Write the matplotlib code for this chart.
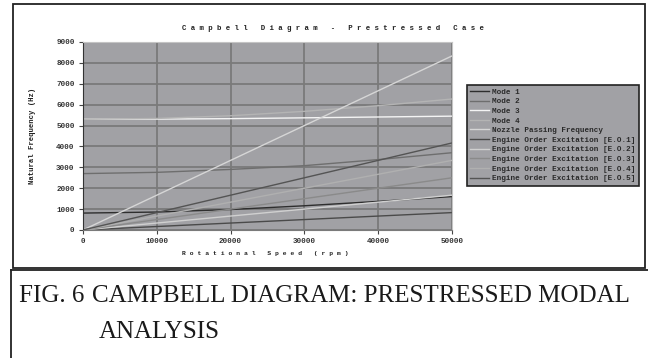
import matplotlib
matplotlib.use('Agg')
import matplotlib.pyplot as plt
from matplotlib.patches import Rectangle
from matplotlib.lines import Line2D

W, H = 648, 358

# rotational speed (rpm) and natural frequencies (Hz)
rpm = [0, 10000, 20000, 30000, 40000, 50000]
mode1 = [810, 860, 980, 1160, 1370, 1600]
mode2 = [2700, 2760, 2900, 3080, 3370, 3700]
mode3 = [5300, 5310, 5330, 5370, 5410, 5450]
mode4 = [5300, 5340, 5470, 5680, 5950, 6270]
nozzle = [0, 1667, 3333, 5000, 6667, 8333]
eo1 = [0, 167, 333, 500, 667, 833]
eo2 = [0, 333, 667, 1000, 1333, 1667]
eo3 = [0, 500, 1000, 1500, 2000, 2500]
eo4 = [0, 667, 1333, 2000, 2667, 3333]
eo5 = [0, 833, 1667, 2500, 3333, 4167]

labels = ['Mode 1', 'Mode 2', 'Mode 3', 'Mode 4', 'Nozzle Passing Frequency',
          'Engine Order Excitation [E.O.1]', 'Engine Order Excitation [E.O.2]',
          'Engine Order Excitation [E.O.3]', 'Engine Order Excitation [E.O.4]',
          'Engine Order Excitation [E.O.5]']
series = [mode1, mode2, mode3, mode4, nozzle, eo1, eo2, eo3, eo4, eo5]
colors = ['#2e2e2e', '#6e6e6e', '#f4f4f4', '#b4b4b4', '#d6d6d6',
          '#4a4a4a', '#d0d0d0', '#8a8a8a', '#b0b0b0', '#545454']

xticks = [0, 10000, 20000, 30000, 40000, 50000]
yticks = list(range(0, 9001, 1000))

bg = '#a1a1a5'
mono = 'Liberation Mono'


def spaced(s):
    return ' '.join(s)


fig = plt.figure(figsize=(W / 100, H / 100), dpi=100)
fig.patch.set_facecolor('white')

# chart frame and caption box (pixel coords, y from top)
def px(x, y):
    return x / W, 1 - y / H

fig.add_artist(Rectangle(px(13, 268), (645 - 13) / W, (268 - 4) / H,
                         transform=fig.transFigure, fill=False,
                         edgecolor='#222222', linewidth=1.3))
fig.add_artist(Line2D([11 / W, 11 / W], [1 - 270 / H, 0],
                      transform=fig.transFigure, color='#222222', linewidth=1.3))
fig.add_artist(Line2D([11 / W, 1], [1 - 270 / H, 1 - 270 / H],
                      transform=fig.transFigure, color='#222222', linewidth=1.3))

ax = fig.add_axes([83 / W, 1 - 230 / H, (452 - 83) / W, (230 - 42) / H])
ax.set_facecolor(bg)

for vals, c, lab in zip(series, colors, labels):
    ax.plot(rpm, vals, color=c, linewidth=1.0, label=lab)

ax.set_xlim(0, 50000)
ax.set_ylim(0, 9000)
ax.set_xticks(xticks)
ax.set_yticks(yticks)
ax.set_xticklabels([str(v) for v in xticks], fontfamily=mono, fontsize=5.5,
                   fontweight='bold', color='#333333')
ax.set_yticklabels([str(v) for v in yticks], fontfamily=mono, fontsize=5.5,
                   fontweight='bold', color='#333333')
ax.tick_params(axis='both', direction='out', length=3, width=0.8,
               color='#444444', pad=3)
ax.grid(True, color='#7a7a7a', linewidth=1.3)
ax.set_axisbelow(True)
ax.spines['left'].set_color('#333333')
ax.spines['bottom'].set_color('#7a7a7a')
ax.spines['top'].set_color('#c4c4c4')
ax.spines['right'].set_color('#c4c4c4')

fig.text(333 / W, 1 - 29 / H, spaced('Campbell Diagram - Prestressed Case'),
         fontfamily=mono, fontsize=5.3, fontweight='bold', color='#222222',
         ha='center', va='center')
fig.text(265 / W, 1 - 254 / H, spaced('Rotational Speed (rpm)'),
         fontfamily=mono, fontsize=4.6, fontweight='bold', color='#222222',
         ha='center', va='center')
fig.text(33 / W, 1 - 136 / H, 'Natural Frequency (Hz)',
         fontfamily=mono, fontsize=5.2, fontweight='bold', color='#222222',
         ha='center', va='center', rotation=90)

leg = ax.legend(loc='upper left', bbox_to_anchor=px(463, 81),
                bbox_transform=fig.transFigure,
                prop={'family': mono, 'size': 5.5, 'weight': 'bold'},
                handlelength=2.4, handletextpad=0.5, labelspacing=0.3,
                borderpad=0.45, frameon=True, fancybox=False)
leg.get_frame().set_facecolor(bg)
leg.get_frame().set_edgecolor('#222222')
leg.get_frame().set_linewidth(1.2)
leg.get_frame().set_alpha(1)
for t in leg.get_texts():
    t.set_color('#2a2a2a')

serif = 'Liberation Serif'
fig.text(19 / W, 1 - 302 / H, 'FIG. 6', fontfamily=serif, fontsize=18,
         color='#1a1a1a', va='baseline')
fig.text(92 / W, 1 - 302 / H, 'CAMPBELL DIAGRAM: PRESTRESSED MODAL',
         fontfamily=serif, fontsize=18, color='#1a1a1a', va='baseline')
fig.text(99 / W, 1 - 338 / H, 'ANALYSIS', fontfamily=serif, fontsize=18,
         color='#1a1a1a', va='baseline')

fig.savefig('out.png', dpi=100)
